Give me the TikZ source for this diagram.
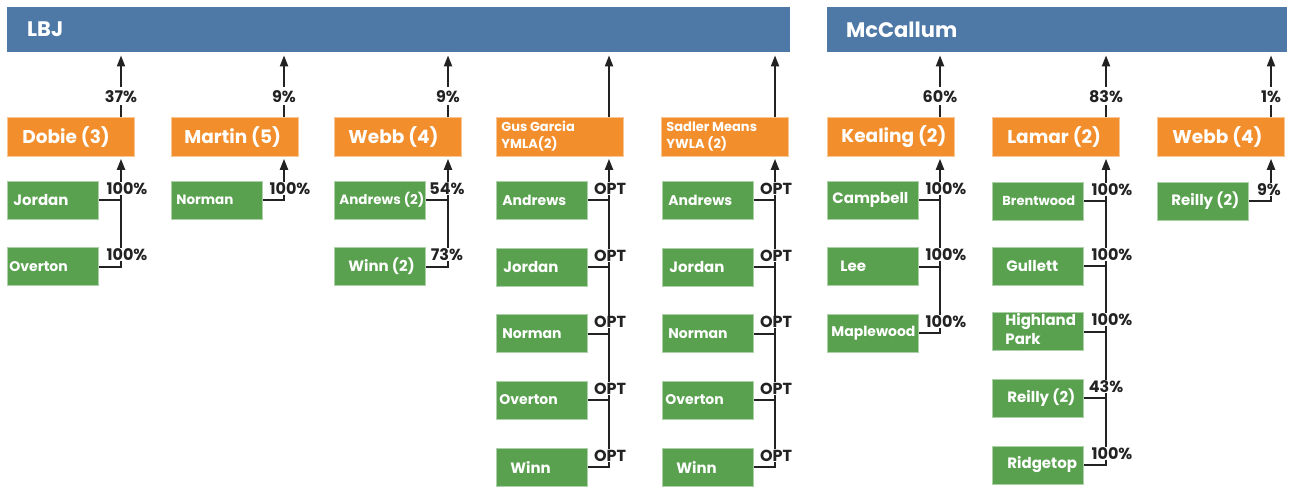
\documentclass[tikz,border=0pt]{standalone}
\usepackage{fontspec}
\setmainfont{Poppins}
\usetikzlibrary{arrows.meta}
\definecolor{barblue}{HTML}{4E79A7}
\definecolor{org}{HTML}{F28E2B}
\definecolor{grn}{HTML}{59A14F}
\definecolor{ink}{HTML}{222222}
\newcommand\fs[1]{\fontsize{#1}{#1}\selectfont\bfseries}
\tikzset{
 bar/.style={fill=barblue, draw=none, minimum height=45pt, inner sep=0, anchor=north west, text=white},
 obox/.style={fill=org, draw=org!50!white, line width=0.8pt, minimum width=127pt, minimum height=39pt, inner sep=0, anchor=north west, text=white},
 gbox/.style={fill=grn, draw=grn!50!white, line width=0.8pt, minimum width=91pt, minimum height=38pt, inner sep=0, anchor=west, text=white},
 conn/.style={draw=ink, line width=2pt},
 arr/.style={conn, -{Triangle[length=11pt,width=8pt]}},
 pct/.style={text=ink, font=\fs{16}, inner sep=0.5pt, fill=white},
 toppct/.style={pct, inner xsep=1pt, inner ysep=3pt},
}
\newcommand\gn[6]{\node[gbox] (#1) at (#2,#3) {\makebox[91pt][l]{\hspace*{#4pt}\fs{#5}#6}};}
\newcommand\on[5]{\node[obox] (#1) at (#2,117) {\makebox[127pt][l]{\hspace*{#3pt}\fs{#4}#5}};}
\newcommand\jl[5]{\node[pct, anchor=base, xshift=#5pt, yshift=6pt] (#1) at (#2.east -| #3) {#4};}
\begin{document}
\begin{tikzpicture}[x=1pt, y=-1pt]
\useasboundingbox (0,0) rectangle (1289,487);
% bars
\node[bar, minimum width=783pt] (lbj) at (7,7) {\makebox[783pt][l]{\hspace*{20pt}\fs{21}LBJ}};
\node[bar, minimum width=460pt] (mcc) at (827,7) {\makebox[460pt][l]{\hspace*{19pt}\fs{21}McCallum}};
% axes
\coordinate (ax1) at (121,0);
\coordinate (ax2) at (284,0);
\coordinate (ax3) at (448,0);
\coordinate (ax4) at (609,0);
\coordinate (ax5) at (775,0);
\coordinate (ax6) at (940,0);
\coordinate (ax7) at (1106,0);
\coordinate (ax8) at (1271,0);
% orange boxes
\on{o1}{7}{15}{18.5}{Dobie (3)}
\on{o2}{171}{13}{18.5}{Martin (5)}
\on{o3}{334}{14}{18.5}{Webb (4)}
\node[obox] (o4) at (496,117) {\makebox[127pt][l]{\hspace*{5pt}\fontsize{13}{17}\selectfont\bfseries\begin{tabular}{@{}l@{}}Gus Garcia\\YMLA(2)\end{tabular}}};
\node[obox] (o5) at (661,117) {\makebox[127pt][l]{\hspace*{5pt}\fontsize{13}{17}\selectfont\bfseries\begin{tabular}{@{}l@{}}Sadler Means\\YWLA (2)\end{tabular}}};
\on{o6}{827}{14}{18.5}{Kealing (2)}
\on{o7}{992}{15}{18.5}{Lamar (2)}
\on{o8}{1157}{15}{18.5}{Webb (4)}
% green boxes
\gn{g11}{7}{200}{6}{15}{Jordan}
\gn{g12}{7}{266.5}{2}{14}{Overton}
\gn{g21}{171}{200}{5}{13.5}{Norman}
\gn{g31}{334}{200}{5}{13.5}{Andrews (2)}
\gn{g32}{334}{266.5}{14}{15}{Winn (2)}
\gn{g41}{496}{200}{6}{14}{Andrews}
\gn{g42}{496}{267}{7}{15}{Jordan}
\gn{g43}{496}{333.5}{6}{14}{Norman}
\gn{g44}{496}{400}{3}{14}{Overton}
\gn{g45}{496}{467}{14}{15}{Winn}
\gn{g51}{662}{200}{6}{14}{Andrews}
\gn{g52}{662}{267}{7}{15}{Jordan}
\gn{g53}{662}{333.5}{6}{14}{Norman}
\gn{g54}{662}{400}{3}{14}{Overton}
\gn{g55}{662}{467}{14}{15}{Winn}
\gn{g61}{827}{200}{5}{15}{Campbell}
\gn{g62}{827}{266.5}{13}{15}{Lee}
\gn{g63}{827}{333}{4}{14}{Maplewood}
\gn{g71}{992}{201}{10}{13}{Brentwood}
\gn{g72}{992}{266}{14}{15}{Gullett}
\node[gbox] (g73) at (992,331.5) {\makebox[91pt][l]{\hspace*{13pt}\fontsize{15}{19}\selectfont\bfseries\begin{tabular}{@{}l@{}}Highland\\Park\end{tabular}}};
\gn{g74}{992}{398}{15}{15}{Reilly (2)}
\gn{g75}{992}{465}{15}{15}{Ridgetop}
\gn{g81}{1157}{201}{14}{15}{Reilly (2)}
% top arrows
\draw[arr, shorten >=3pt] (o1.north -| ax1) -- (lbj.south -| ax1) node[toppct, pos=0.32] (t1) {37\%};
\draw[arr, shorten >=3pt] (o2.north -| ax2) -- (lbj.south -| ax2) node[toppct, pos=0.32] (t2) {9\%};
\draw[arr, shorten >=3pt] (o3.north -| ax3) -- (lbj.south -| ax3) node[toppct, pos=0.32] (t3) {9\%};
\draw[arr, shorten >=3pt] (o4.north -| ax4) -- (lbj.south -| ax4);
\draw[arr, shorten >=3pt] (o5.north -| ax5) -- (lbj.south -| ax5);
\draw[arr, shorten >=3pt] (o6.north -| ax6) -- (mcc.south -| ax6) node[toppct, pos=0.32] (t6) {60\%};
\draw[arr, shorten >=3pt] (o7.north -| ax7) -- (mcc.south -| ax7) node[toppct, pos=0.32] (t7) {83\%};
\draw[arr, shorten >=3pt] (o8.north -| ax8) -- (mcc.south -| ax8) node[toppct, pos=0.32] (t8) {1\%};
% child connectors
\draw[arr, shorten >=2pt] (g12.east) -- (g12.east -| ax1) -- (o1.south -| ax1);
\draw[conn] (g11.east) -- (g11.east -| ax1);
\draw[arr, shorten >=2pt] (g21.east) -- (g21.east -| ax2) -- (o2.south -| ax2);
\draw[arr, shorten >=2pt] (g32.east) -- (g32.east -| ax3) -- (o3.south -| ax3);
\draw[conn] (g31.east) -- (g31.east -| ax3);
\draw[arr, shorten >=2pt] (g45.east) -- (g45.east -| ax4) -- (o4.south -| ax4);
\foreach \g in {g41,g42,g43,g44} \draw[conn] (\g.east) -- (\g.east -| ax4);
\draw[arr, shorten >=2pt] (g55.east) -- (g55.east -| ax5) -- (o5.south -| ax5);
\foreach \g in {g51,g52,g53,g54} \draw[conn] (\g.east) -- (\g.east -| ax5);
\draw[arr, shorten >=2pt] (g63.east) -- (g63.east -| ax6) -- (o6.south -| ax6);
\foreach \g in {g61,g62} \draw[conn] (\g.east) -- (\g.east -| ax6);
\draw[arr, shorten >=2pt] (g75.east) -- (g75.east -| ax7) -- (o7.south -| ax7);
\foreach \g in {g71,g72,g73,g74} \draw[conn] (\g.east) -- (\g.east -| ax7);
\draw[arr, shorten >=2pt] (g81.east) -- (g81.east -| ax8) -- (o8.south -| ax8);
% junction labels
\jl{l11}{g11}{ax1}{100\%}{6}
\jl{l12}{g12}{ax1}{100\%}{6}
\jl{l21}{g21}{ax2}{100\%}{6}
\jl{l31}{g31}{ax3}{54\%}{-1}
\jl{l32}{g32}{ax3}{73\%}{-1}
\jl{l41}{g41}{ax4}{OPT}{1}
\jl{l42}{g42}{ax4}{OPT}{1}
\jl{l43}{g43}{ax4}{OPT}{1}
\jl{l44}{g44}{ax4}{OPT}{1}
\jl{l45}{g45}{ax4}{OPT}{1}
\jl{l51}{g51}{ax5}{OPT}{1}
\jl{l52}{g52}{ax5}{OPT}{1}
\jl{l53}{g53}{ax5}{OPT}{1}
\jl{l54}{g54}{ax5}{OPT}{1}
\jl{l55}{g55}{ax5}{OPT}{1}
\jl{l61}{g61}{ax6}{100\%}{6}
\jl{l62}{g62}{ax6}{100\%}{6}
\jl{l63}{g63}{ax6}{100\%}{6}
\jl{l71}{g71}{ax7}{100\%}{6}
\jl{l72}{g72}{ax7}{100\%}{6}
\jl{l73}{g73}{ax7}{100\%}{6}
\jl{l74}{g74}{ax7}{43\%}{0}
\jl{l75}{g75}{ax7}{100\%}{6}
\jl{l81}{g81}{ax8}{9\%}{-2}
\end{tikzpicture}
\end{document}
